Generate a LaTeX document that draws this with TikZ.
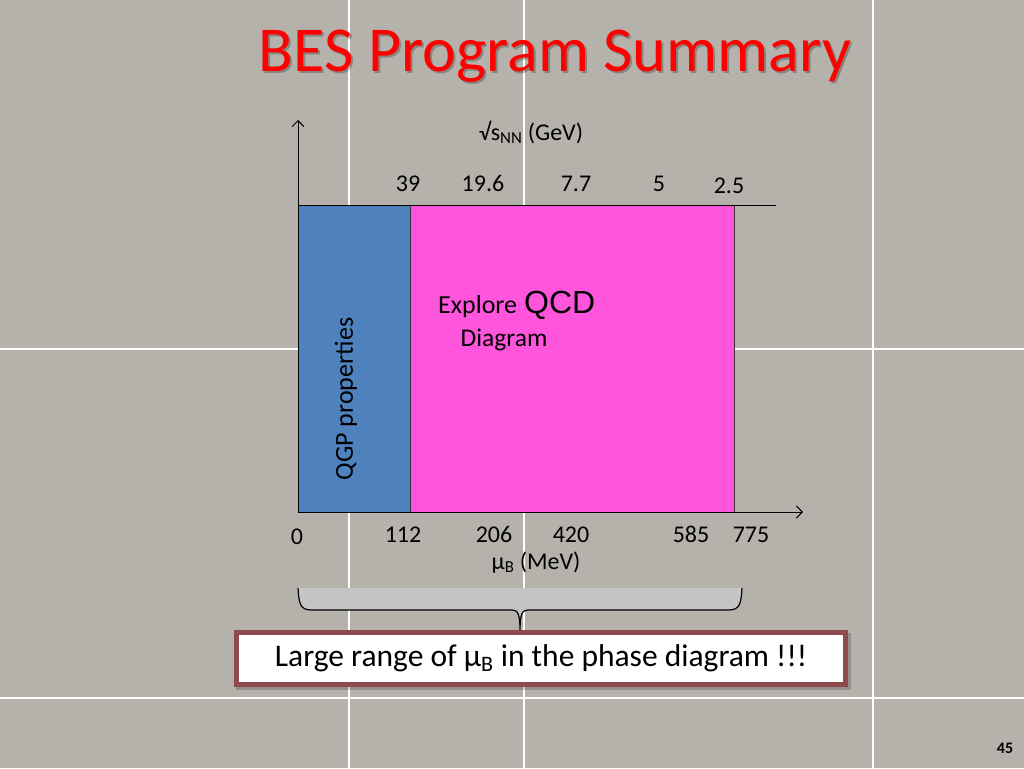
\documentclass[tikz,border=0pt]{standalone}
\usepackage{fontspec}
\setmainfont{Carlito}
\newfontfamily\arialfont{Liberation Sans}
\usetikzlibrary{arrows.meta}
\definecolor{bgray}{RGB}{181,178,172}
\definecolor{qgpblue}{RGB}{79,129,189}
\definecolor{qcdpink}{RGB}{255,85,221}
\definecolor{titlered}{RGB}{255,0,0}
\definecolor{boxred}{RGB}{142,75,79}
\definecolor{bracegray}{RGB}{196,196,196}
\tikzset{
  gridline/.style={white, line width=1.3pt},
  axisline/.style={black, line width=1pt},
  axisarrow/.style={axisline, -{Straight Barb[length=6pt,width=12pt]}},
  numlabel/.style={anchor=base, inner sep=0pt, font=\fontsize{24}{28}\selectfont},
  axlabel/.style={anchor=base, inner sep=0pt, font=\fontsize{24}{28}\selectfont},
  region/.style={draw=black!80, line width=1pt},
}
\begin{document}
\begin{tikzpicture}[x=1pt,y=-1pt]
\useasboundingbox (0,0) rectangle (1024,768);
\fill[bgray] (0,0) rectangle (1024,768);
% grid lines
\draw[gridline] (349,0) -- (349,768);
\draw[gridline] (524,0) -- (524,768);
\draw[gridline] (873,0) -- (873,768);
\draw[gridline] (0,349) -- (1024,349);
\draw[gridline] (0,698) -- (1024,698);
% title
\node[anchor=base, inner sep=0pt, font=\fontsize{64}{72}\selectfont, text=black, opacity=0.25] at (557,73) {BES Program Summary};
\node (title) [anchor=base, inner sep=0pt, font=\fontsize{64}{72}\selectfont, text=titlered] at (555,71) {BES Program Summary};
% regions
\fill[qgpblue] (298,205) rectangle (410,512);
\fill[qcdpink] (410,205) rectangle (734,512);
\draw[region] (298,205) rectangle (410,512);
\draw[region] (410,205) rectangle (734,512);
% axes
\coordinate (origin) at (298,512);
\coordinate (yend) at (298,120);
\coordinate (xend) at (803,512);
\coordinate (topl) at (298,205);
\coordinate (topr) at (776,205);
\draw[axisarrow] (origin) -- (yend);
\draw[axisarrow] (origin) -- (xend);
\draw[axisline] (topl) -- (topr);
% top labels
\node (sqrts) [axlabel] at (531,140) {√s\textsubscript{NN} (GeV)};
\node (t39) [numlabel] at (408,191) {39};
\node (t196) [numlabel] at (483,191) {19.6};
\node (t77) [numlabel] at (576,191) {7.7};
\node (t5) [numlabel] at (659,191) {5};
\node (t25) [numlabel] at (729,193) {2.5};
% bottom labels
\node (b0) [numlabel] at (297,544) {0};
\node (b112) [numlabel] at (403,542) {112};
\node (b206) [numlabel] at (494,542) {206};
\node (b420) [numlabel] at (571,542) {420};
\node (b585) [numlabel] at (691,542) {585};
\node (b775) [numlabel] at (751,542) {775};
\node (mub) [axlabel] at (536,569) {μ\textsubscript{B} (MeV)};
% region labels
\node (qgp) [rotate=90, inner sep=0pt, font=\fontsize{26}{30}\selectfont] at (346,399) {QGP properties};
\node (explore) [anchor=base west, inner sep=0pt, font=\fontsize{26}{30}\selectfont] at (438,313) {Explore};
\node (qcd) [anchor=base west, inner sep=0pt, font=\arialfont\fontsize{32}{36}\selectfont] at (524,313) {QCD};
\node (diag) [anchor=base, inner sep=0pt, font=\fontsize{25.5}{30}\selectfont] at (504,346) {Diagram};
% brace
\coordinate (brl) at (298,588);
\coordinate (brr) at (742,588);
\coordinate (brtip) at (520,632);
\fill[bracegray] (brl) .. controls (299,604) and (300,610) .. (312,610) -- (512,610) .. controls (518,610) and (520,614) .. (brtip) .. controls (520,614) and (522,610) .. (528,610) -- (728,610) .. controls (740,610) and (741,604) .. (brr) -- cycle;
\draw[black, line width=1.2pt] (brl) .. controls (299,604) and (300,610) .. (312,610) -- (512,610) .. controls (518,610) and (520,614) .. (brtip) .. controls (520,614) and (522,610) .. (528,610) -- (728,610) .. controls (740,610) and (741,604) .. (brr);
% result box
\fill[black, opacity=0.18] (236,633) rectangle (851,690);
\node (result) [draw=boxred, line width=5pt, fill=white, minimum width=609pt, minimum height=52pt, inner sep=0pt, font=\fontsize{31.5}{36}\selectfont] at (541,658) {Large range of μ\textsubscript{B} in the phase diagram !!!};
% page number
\node (page) [anchor=base, inner sep=0pt, font=\bfseries\fontsize{16}{18}\selectfont] at (1005,753) {45};
\end{tikzpicture}
\end{document}
